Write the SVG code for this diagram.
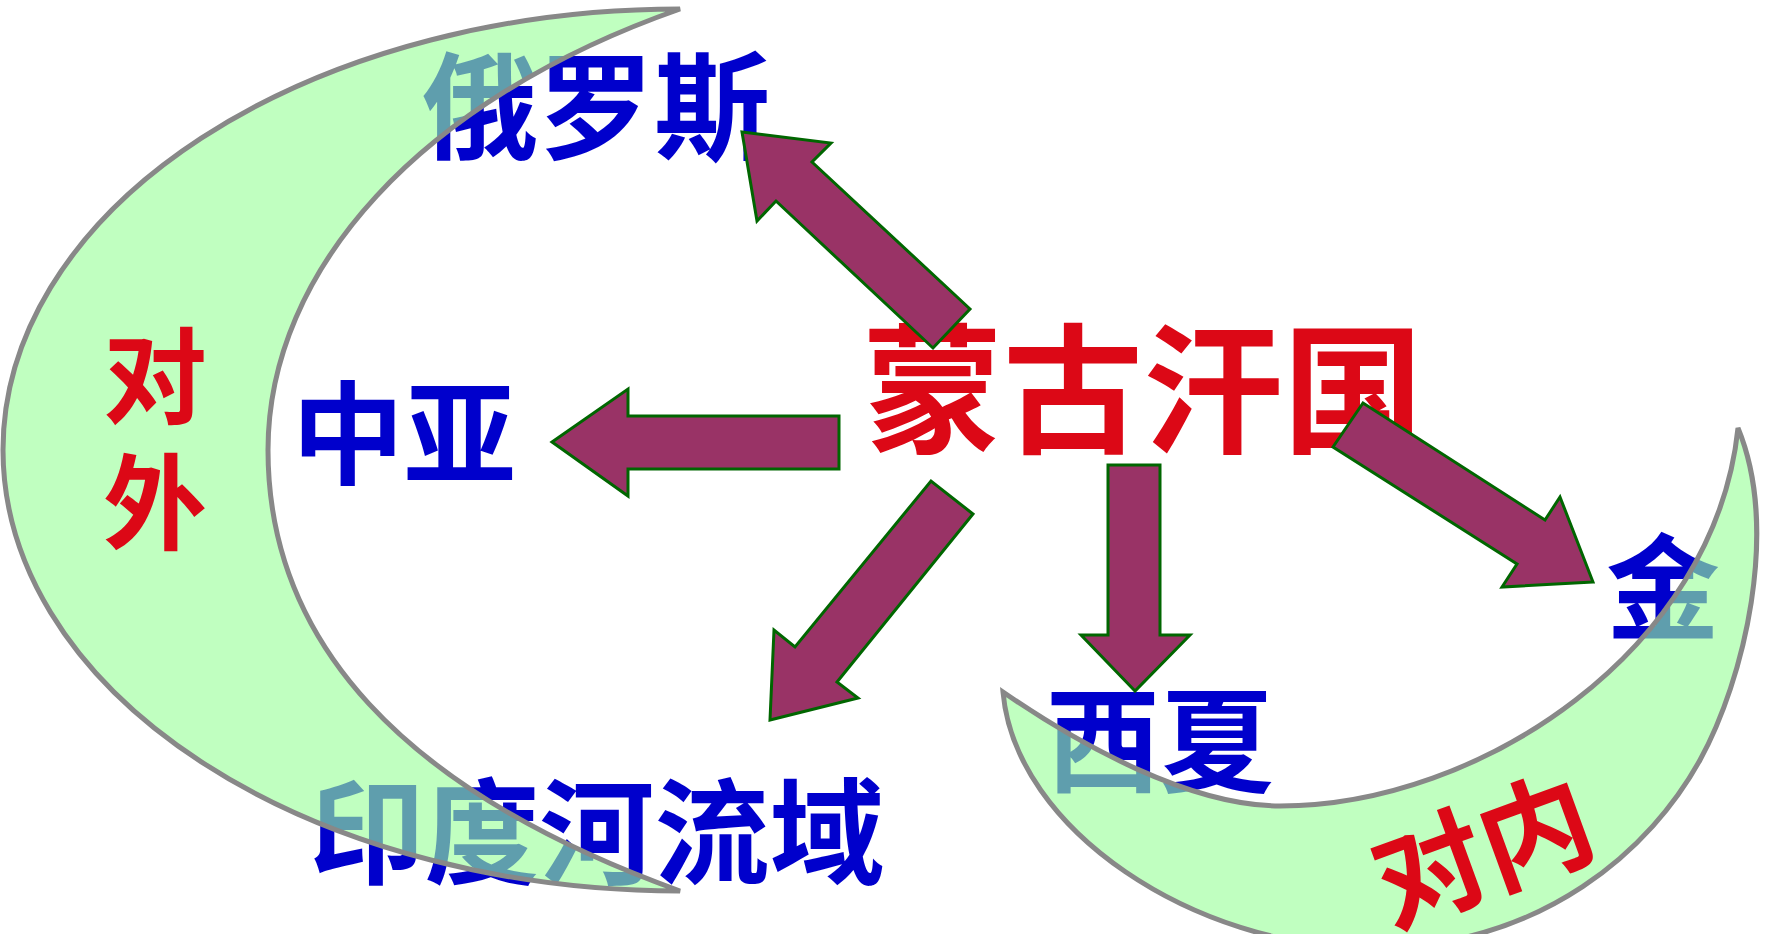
<svg xmlns="http://www.w3.org/2000/svg" width="1766" height="934" viewBox="0 0 1766 934">
<style>
.blue{fill:#0000CC;font-family:"Noto Sans CJK SC","Noto Sans CJK JP",sans-serif;text-anchor:middle;font-weight:bold}
.red{fill:#DC0816;font-family:"Noto Sans CJK SC","Noto Sans CJK JP",sans-serif;text-anchor:middle;font-weight:bold}
.moon{fill:#99FF99;fill-opacity:0.62;stroke:#888888;stroke-width:5;stroke-linejoin:miter}
.arrow{fill:#993366;stroke:#006600;stroke-width:3;stroke-linejoin:miter}
</style>
<rect width="1766" height="934" fill="#FFFFFF"/>
<g id="places">
  <g id="eluosi"><text class="blue" x="596" y="150" font-size="116">俄罗斯</text></g>
  <g id="zhongya"><text class="blue" x="404" y="476" font-size="112">中亚</text></g>
  <g id="yindu"><text class="blue" x="597" y="875" font-size="115">印度河流域</text></g>
  <g id="xixia"><text class="blue" x="1160" y="783" font-size="114">西夏</text></g>
  <g id="jin"><text class="blue" x="1663" y="630" font-size="114">金</text></g>
</g>
<g id="moon-outer">
  <path class="moon" d="M 680,9 A 677 441 0 0 0 680,891 C 400,790 268,640 268,450 C 268,270 420,100 680,9 Z"/>
</g>
<g id="moon-inner">
  <path class="moon" d="M 1738,428 C 1780,530 1744,680 1700,760 C 1652,847 1545,948 1370,948 C 1195,948 1015,830 1003,692 C 1080,745 1190,806 1280,806 C 1480,806 1715,650 1738,428 Z"/>
</g>
<g id="label-duiwai">
  <text class="red" x="155" y="450" font-size="104" font-weight="bold" writing-mode="vertical-rl" letter-spacing="22">对外</text>
</g>
<g id="label-duinei">
  <text class="red" x="1482" y="892" font-size="112" font-weight="bold" transform="rotate(-20 1482 849)">对内</text>
</g>
<g id="mongol">
  <text class="red" x="1143" y="442" font-size="140">蒙古汗国</text>
</g>
<g id="connectors">
  <polygon class="arrow" points="742,132 831,143 812,162 970,309 933,348 776,201 757,221"/>
  <polygon class="arrow" points="552,442 628,389 628,416 839,416 839,469 628,469 628,496"/>
  <polygon class="arrow" points="770,720 774,630 795,647 931,481 973,514 837,682 858,698"/>
  <polygon class="arrow" points="1135,691 1081,635 1108,635 1108,465 1160,465 1160,635 1190,635"/>
  <polygon class="arrow" points="1593,582 1502,587 1517,564 1333,447 1363,403 1545,520 1560,497"/>
</g>
</svg>
